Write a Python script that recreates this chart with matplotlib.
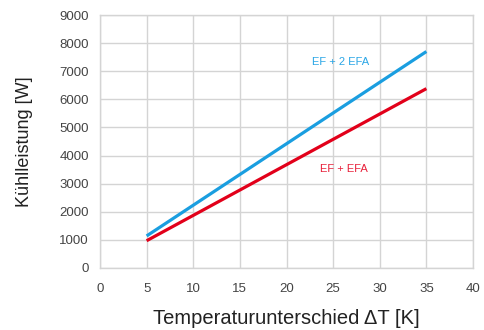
import matplotlib
matplotlib.use("Agg")
import matplotlib.pyplot as plt

plt.rcParams['font.family'] = ['Liberation Sans', 'DejaVu Sans']

dt = [5, 35]
ef_2efa = [1140, 7700]
ef_efa = [970, 6380]
xticks = [0, 5, 10, 15, 20, 25, 30, 35, 40]
yticks = [0, 1000, 2000, 3000, 4000, 5000, 6000, 7000, 8000, 9000]

blue = '#1a9ee0'
red = '#e2001a'

fig = plt.figure(figsize=(4.84, 3.3), dpi=100)
ax = fig.add_axes([100/484, 1-268/330, 373/484, 253/330])

ax.plot(dt, ef_2efa, color=blue, lw=2.3, solid_capstyle='butt', zorder=3)
ax.plot(dt, ef_efa, color=red, lw=2.3, solid_capstyle='butt', zorder=3)

ax.text(25.8, 7320, 'EF + 2 EFA', color='#2aa6e6', fontsize=8, ha='center', va='center')
ax.text(26.1, 3530, 'EF + EFA', color='#e8203a', fontsize=8, ha='center', va='center')

ax.set_xlim(0, 40)
ax.set_ylim(0, 9000)
ax.set_xticks(xticks)
ax.set_yticks(yticks)
ax.grid(True, color='#d4d4d4', lw=1)
ax.set_axisbelow(True)
for s in ax.spines.values():
    s.set_color('#d4d4d4')
    s.set_linewidth(1)
ax.tick_params(axis='x', length=0, labelsize=9.5, labelcolor='#444444', pad=11)
ax.tick_params(axis='y', length=0, labelsize=9.5, labelcolor='#444444', pad=8)

ax.set_xlabel('Temperaturunterschied ΔT [K]', fontsize=14.5, color='#222222', labelpad=10)
ax.set_ylabel('Kühlleistung [W]', fontsize=13, color='#222222', labelpad=19)

fig.savefig('out.png', dpi=100)
